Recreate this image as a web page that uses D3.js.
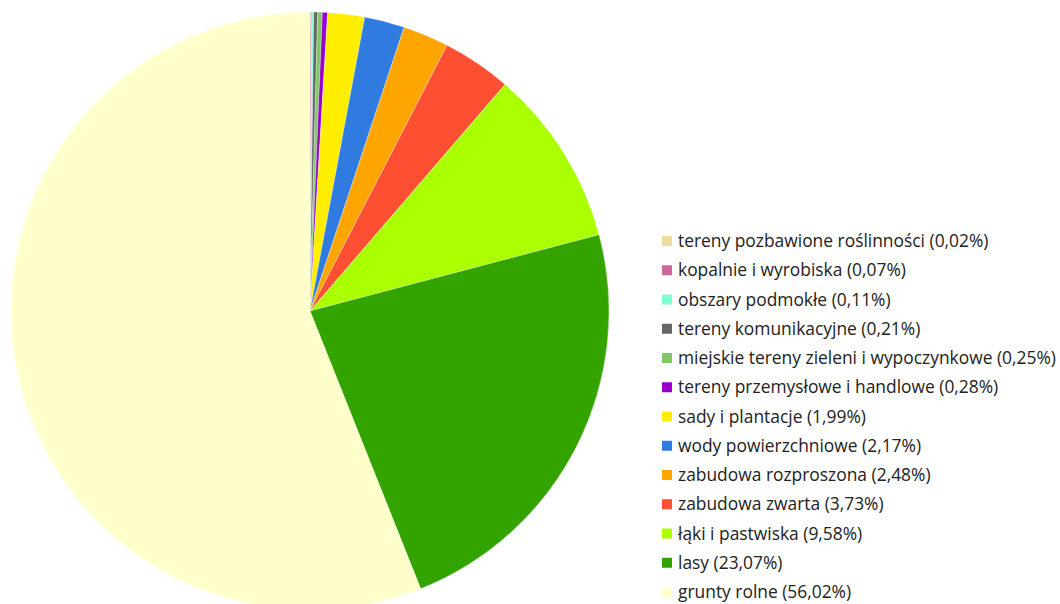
<!DOCTYPE html>
<html><head><meta charset="utf-8">
<script src="https://cdn.jsdelivr.net/npm/d3@7"></script>
<style>body{margin:0;background:#fff}svg{display:block}</style>
</head><body>
<svg id="c" width="1060" height="604"></svg>
<script>
const categories = ["tereny pozbawione roślinności","kopalnie i wyrobiska","obszary podmokłe","tereny komunikacyjne","miejskie tereny zieleni i wypoczynkowe","tereny przemysłowe i handlowe","sady i plantacje","wody powierzchniowe","zabudowa rozproszona","zabudowa zwarta","łąki i pastwiska","lasy","grunty rolne"];
const values = [0.02,0.07,0.11,0.21,0.25,0.28,1.99,2.17,2.48,3.73,9.58,23.07,56.02];
const colors = ["#f0dc9b","#d0679a","#7fffd4","#666666","#80c864","#9900cc","#ffee00","#2f7be0","#ffa500","#ff4f33","#aaff00","#33a300","#ffffcc"];

const svg = d3.select("#c");
const data = categories.map((c,i)=>({name:c,value:values[i],color:colors[i]}));
const pie = d3.pie().sort(null).value(d=>d.value);
const arc = d3.arc().innerRadius(0).outerRadius(299);
const g = svg.append("g").attr("transform","translate(310,311)");
g.selectAll("path").data(pie(data)).join("path")
  .attr("d",arc).attr("fill",d=>d.data.color)
  .attr("stroke","#fff").attr("stroke-width",0.3);

const fmt = v => v.toFixed(2).replace(".",",");
const y = d3.scalePoint().domain(categories).range([241,592]);
const lg = svg.append("g");
const items = lg.selectAll("g").data(data).join("g")
  .attr("transform",d=>`translate(662,${y(d.name)})`);
items.append("rect").attr("x",0).attr("y",-5).attr("width",10).attr("height",10).attr("fill",d=>d.color);
items.append("text").attr("x",16).attr("dy","0.35em")
  .attr("font-family","'Open Sans', sans-serif").attr("font-size",17.4).attr("fill","#222")
  .text(d=>`${d.name} (${fmt(d.value)}%)`);
</script>
</body></html>
